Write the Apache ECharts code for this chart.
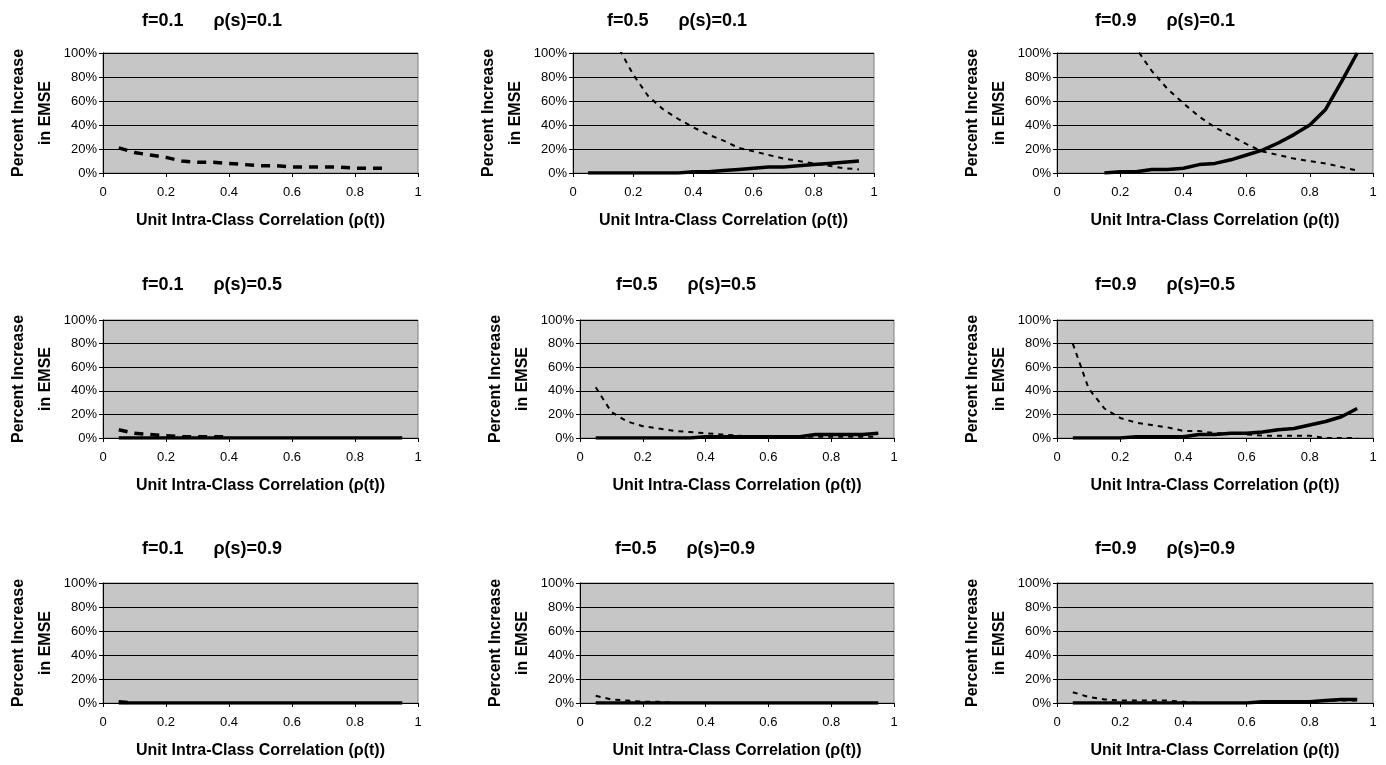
<!DOCTYPE html>
<html>
<head>
<meta charset="utf-8">
<script src="https://cdn.jsdelivr.net/npm/echarts@6/dist/echarts.min.js"></script>
<style>
  html, body { margin: 0; padding: 0; background: #fff; }
  #chart { width: 1386px; height: 765px; }
</style>
</head>
<body>
<div id="chart"></div>
<script>
// x positions (unit intra-class correlation rho(t))
const rhoT = [0.05, 0.1, 0.15, 0.2, 0.25, 0.3, 0.35, 0.4, 0.45, 0.5, 0.55, 0.6, 0.65, 0.7, 0.75, 0.8, 0.85, 0.9, 0.95];
const xTicks = [0, 0.2, 0.4, 0.6, 0.8, 1];
const yTicks = [0, 20, 40, 60, 80, 100];

// percent increase in EMSE, dashed and solid curves per panel
const dashF01S01 = [21, 17, 15, 13, 10, 9, 9, 8, 7, 6, 6, 5, 5, 5, 5, 4, 4, 4, null];
const solidF01S01 = [];
const dashF05S01 = [250, 160, 105, 82, 64, 53, 45, 38, 32, 27, 21, 18, 15, 12, 10, 8, 6, 4, 3];
const solidF05S01 = [0, 0, 0, 0, 0, 0, 0, 1, 1, 2, 3, 4, 5, 5, 6, 7, 8, 9, 10];
const dashF09S01 = [300, 220, 170, 135, 104, 85, 70, 58, 47, 38, 31, 24, 18, 15, 12, 10, 8, 5, 2];
const solidF09S01 = [null, null, 0, 1, 1, 3, 3, 4, 7, 8, 11, 15, 19, 25, 32, 40, 53, 76, 100];

const dashF01S05 = [7, 4, 3, 2, 1, 1, 1, 1, null, null, null, null, null, null, null, null, null, null, null];
const solidF01S05 = [0, 0, 0, 0, 0, 0, 0, 0, 0, 0, 0, 0, 0, 0, 0, 0, 0, 0, 0];
const dashF05S05 = [43, 22, 14, 10, 8, 6, 5, 4, 3, 2, 1, 1, 1, 1, 1, 1, 1, 1, 1];
const solidF05S05 = [0, 0, 0, 0, 0, 0, 0, 1, 1, 1, 1, 1, 1, 1, 3, 3, 3, 3, 4];
const dashF09S05 = [80, 42, 25, 17, 13, 11, 9, 6, 6, 4, 4, 3, 2, 2, 2, 2, 0, 0, 0];
const solidF09S05 = [0, 0, 0, 0, 1, 1, 1, 1, 3, 3, 4, 4, 5, 7, 8, 11, 14, 18, 25];

const dashF01S09 = [1, 0, null, null, null, null, null, null, null, null, null, null, null, null, null, null, null, null, null];
const solidF01S09 = [0, 0, 0, 0, 0, 0, 0, 0, 0, 0, 0, 0, 0, 0, 0, 0, 0, 0, 0];
const dashF05S09 = [6, 3, 2, 1, 1, 0, null, null, null, null, null, null, null, null, null, null, null, null, null];
const solidF05S09 = [0, 0, 0, 0, 0, 0, 0, 0, 0, 0, 0, 0, 0, 0, 0, 0, 0, 0, 0];
const dashF09S09 = [9, 5, 3, 2, 2, 2, 2, 1, 0, 0, 0, 0, 1, 1, 1, 1, 2, 2, 2];
const solidF09S09 = [0, 0, 0, 0, 0, 0, 0, 0, 0, 0, 0, 0, 1, 1, 1, 1, 2, 3, 3];

const panels = [
  { f: '0.1', s: '0.1', dash: dashF01S01, solid: solidF01S01, box: [103, 53, 315, 120], tx: 212, ty: 21, thick: true },
  { f: '0.5', s: '0.1', dash: dashF05S01, solid: solidF05S01, box: [573, 53, 301, 120], tx: 677, ty: 21 },
  { f: '0.9', s: '0.1', dash: dashF09S01, solid: solidF09S01, box: [1057, 53, 316, 120], tx: 1165, ty: 21 },
  { f: '0.1', s: '0.5', dash: dashF01S05, solid: solidF01S05, box: [103, 320, 315, 118], tx: 212, ty: 285, thick: true },
  { f: '0.5', s: '0.5', dash: dashF05S05, solid: solidF05S05, box: [580, 320, 314, 118], tx: 686, ty: 285 },
  { f: '0.9', s: '0.5', dash: dashF09S05, solid: solidF09S05, box: [1057, 320, 316, 118], tx: 1165, ty: 285 },
  { f: '0.1', s: '0.9', dash: dashF01S09, solid: solidF01S09, box: [103, 583, 315, 120], tx: 212, ty: 549, thick: true },
  { f: '0.5', s: '0.9', dash: dashF05S09, solid: solidF05S09, box: [580, 583, 314, 120], tx: 685, ty: 549 },
  { f: '0.9', s: '0.9', dash: dashF09S09, solid: solidF09S09, box: [1057, 583, 316, 120], tx: 1165, ty: 549 }
];

const FONT = '"Liberation Sans", Arial, sans-serif';
const pairs = arr => rhoT.map((x, i) => [x, arr[i] === undefined ? null : arr[i]]);

const grid = [], xAxis = [], yAxis = [], series = [], graphic = [];

panels.forEach((p, i) => {
  grid.push({
    left: p.box[0], top: p.box[1], width: p.box[2], height: p.box[3],
    show: true, backgroundColor: '#c6c6c6', borderColor: '#808080', borderWidth: 1
  });
  xAxis.push({
    type: 'value', gridIndex: i, min: 0, max: 1, interval: 0.2,
    name: 'Unit Intra-Class Correlation (ρ(t))', nameLocation: 'middle', nameGap: 40,
    nameTextStyle: { fontFamily: FONT, fontWeight: 'bold', fontSize: 16, color: '#000' },
    axisLine: { show: true, onZero: false, lineStyle: { color: '#000', width: 1 } },
    axisTick: { show: true, length: 4, lineStyle: { color: '#000' } },
    axisLabel: { fontFamily: FONT, fontSize: 13, color: '#000', margin: 13,
      formatter: v => xTicks.indexOf(Math.round(v * 10) / 10) >= 0 ? String(Math.round(v * 10) / 10) : '' },
    splitLine: { show: false }
  });
  yAxis.push({
    type: 'value', gridIndex: i, min: 0, max: 100, interval: 20,
    name: 'Percent Increase\nin EMSE', nameLocation: 'middle', nameGap: 44, nameRotate: 90,
    nameTextStyle: { fontFamily: FONT, fontWeight: 'bold', fontSize: 16, color: '#000', lineHeight: 27 },
    axisLine: { show: true, lineStyle: { color: '#000', width: 1 } },
    axisTick: { show: true, length: 4, lineStyle: { color: '#000' } },
    axisLabel: { fontFamily: FONT, fontSize: 13, color: '#000', margin: 6,
      formatter: v => yTicks.indexOf(v) >= 0 ? v + '%' : '' },
    splitLine: { show: true, lineStyle: { color: '#000', width: 1 } }
  });
  series.push({
    type: 'line', xAxisIndex: i, yAxisIndex: i, data: pairs(p.dash),
    symbol: 'none', clip: true, connectNulls: false, z: 3,
    lineStyle: p.thick
      ? { color: '#000', width: 3.5, type: [9, 7] }
      : { color: '#000', width: 2, type: [5, 5] }
  });
  if (p.solid.length) {
    series.push({
      type: 'line', xAxisIndex: i, yAxisIndex: i, data: pairs(p.solid),
      symbol: 'none', clip: true, connectNulls: false, z: 4,
      lineStyle: { color: '#000', width: 3.5, type: 'solid' }
    });
  }
  graphic.push({
    type: 'text', x: p.tx, y: p.ty,
    style: {
      text: 'f=' + p.f + '      ρ(s)=' + p.s,
      font: 'bold 18px ' + FONT, fill: '#000',
      textAlign: 'center', textVerticalAlign: 'middle'
    }
  });
});

const chart = echarts.init(document.getElementById('chart'), null, { renderer: 'canvas' });
chart.setOption({
  animation: false,
  backgroundColor: '#fff',
  grid, xAxis, yAxis, series, graphic
});
</script>
</body>
</html>
